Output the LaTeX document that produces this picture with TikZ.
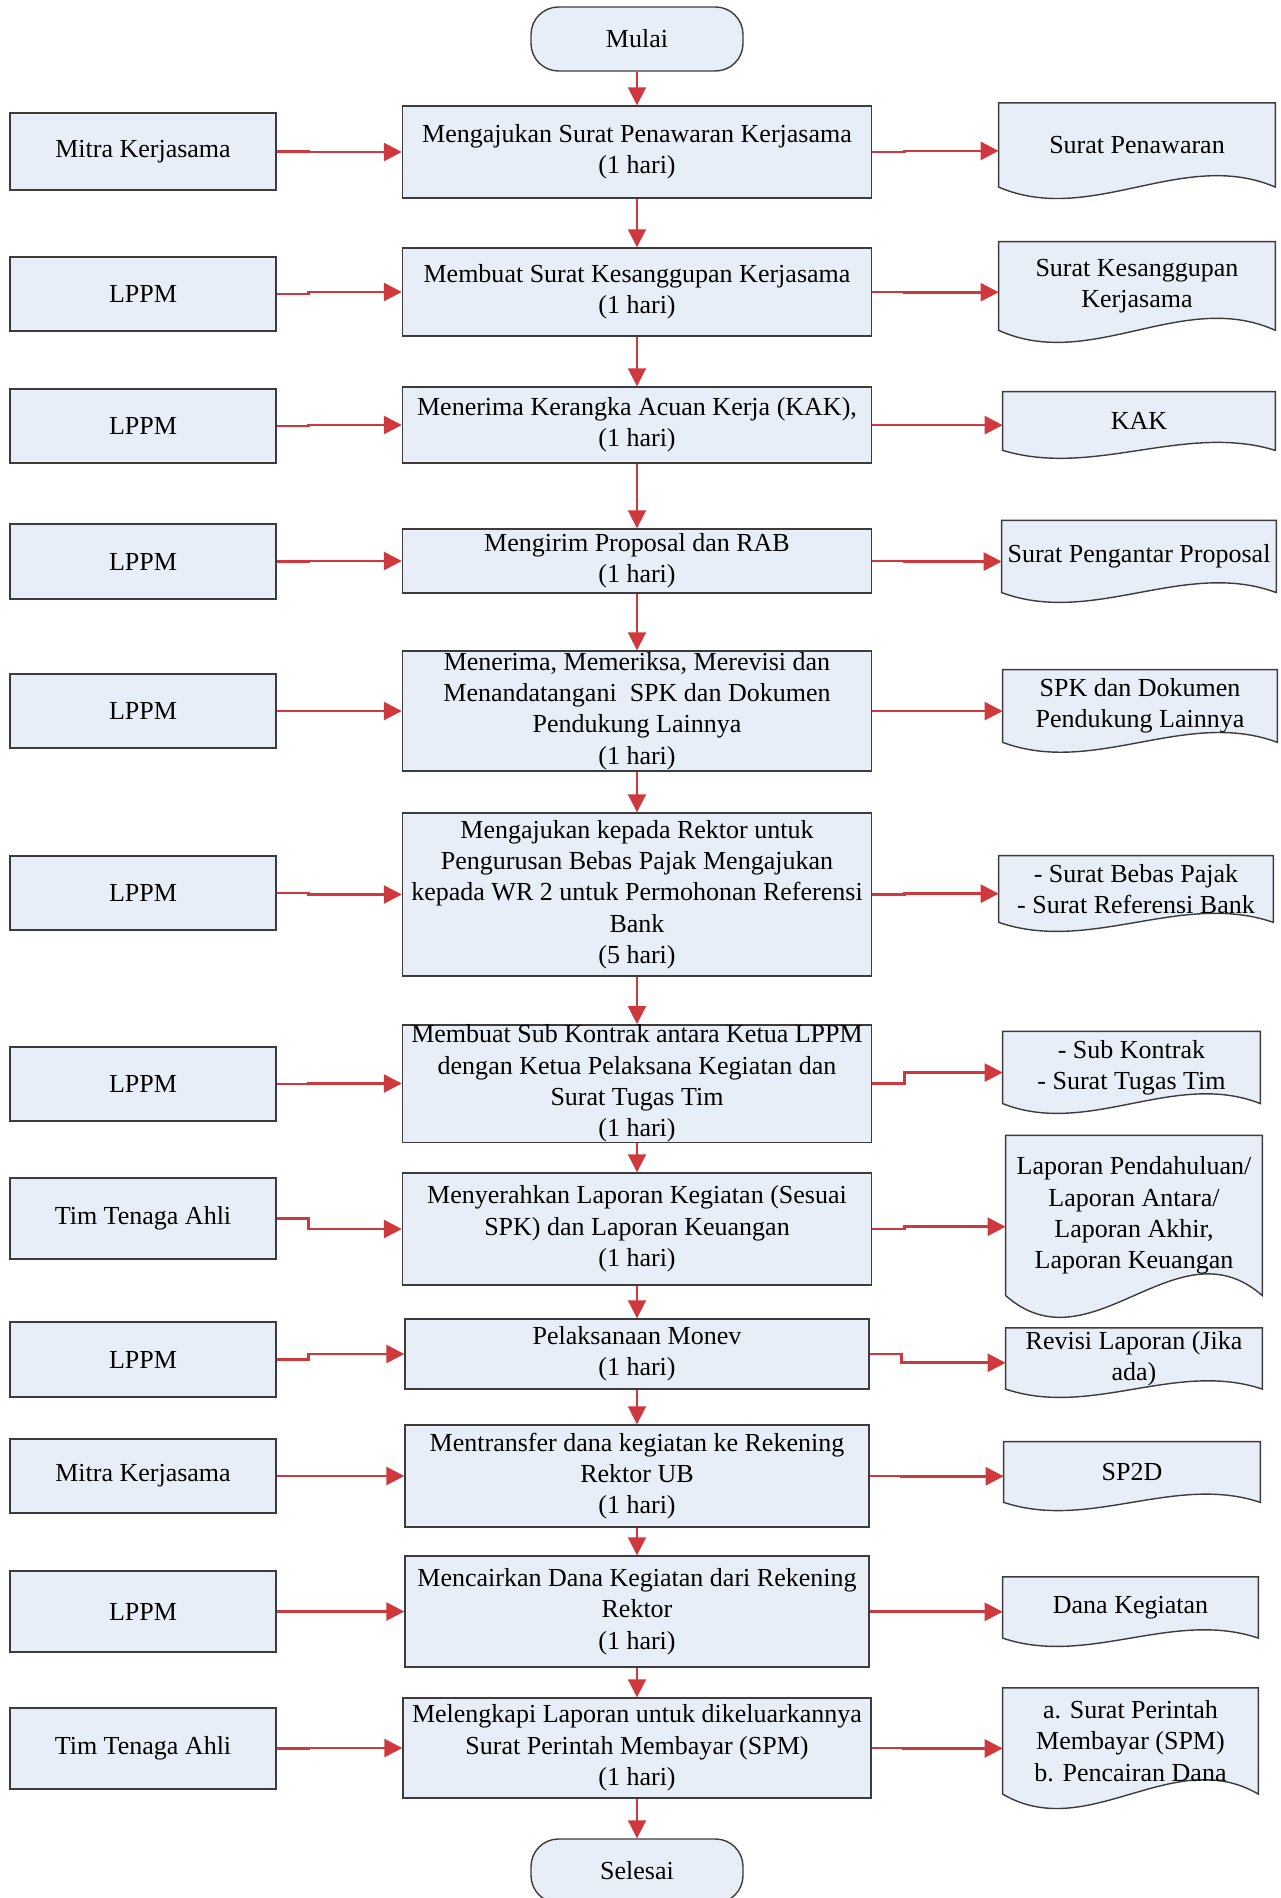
\documentclass[tikz,border=0pt]{standalone}
\usepackage{fontspec}
\setmainfont{Liberation Serif}
\usepackage{tikz}
\definecolor{isiBiru}{RGB}{232,238,247}
\definecolor{garisAbu}{RGB}{60,60,60}
\definecolor{merahPanah}{RGB}{207,57,61}
\usetikzlibrary{calc}
\usetikzlibrary{arrows.meta}
\usetikzlibrary{backgrounds}
\tikzset{
  teks/.style={align=center, inner xsep=1pt, inner ysep=0pt, font=\fontsize{14.8}{17.8}\selectfont},
  kotak/.style={teks, draw=garisAbu, fill=isiBiru, line width=0.8pt},
  pelaku/.style={kotak, minimum width=5.32cm},
  proses/.style={kotak, minimum width=9.38cm},
  terminal/.style={kotak, rounded corners=0.55cm, minimum width=4.24cm, minimum height=1.28cm},
  dokumen/.style={teks},
  dokgaris/.style={draw=garisAbu, fill=isiBiru, line width=0.8pt},
  panah/.style={merahPanah, line width=1.5pt, -{Triangle[length=0.36cm,width=0.36cm]}},
  panahturun/.style={panah, line width=1.1pt}
}

\begin{document}
\begin{tikzpicture}
        \useasboundingbox (0,0) rectangle (25.6,-37.96);

        \node[terminal] (mulai) at (12.74,-0.78) {Mulai};

        % pelaku
        \node[pelaku, minimum height=1.54cm] (l1)  at (2.86, -3.03) {Mitra Kerjasama};
        \node[pelaku, minimum height=1.48cm] (l2)  at (2.86, -5.88) {LPPM};
        \node[pelaku, minimum height=1.48cm] (l3)  at (2.86, -8.52) {LPPM};
        \node[pelaku, minimum height=1.50cm] (l4)  at (2.86,-11.23) {LPPM};
        \node[pelaku, minimum height=1.48cm] (l5)  at (2.86,-14.22) {LPPM};
        \node[pelaku, minimum height=1.48cm] (l6)  at (2.86,-17.86) {LPPM};
        \node[pelaku, minimum height=1.48cm] (l7)  at (2.86,-21.68) {LPPM};
        \node[pelaku, minimum height=1.62cm] (l8)  at (2.86,-24.37) {Tim Tenaga Ahli};
        \node[pelaku, minimum height=1.50cm] (l9)  at (2.86,-27.19) {LPPM};
        \node[pelaku, minimum height=1.48cm] (l10) at (2.86,-29.52) {Mitra Kerjasama};
        \node[pelaku, minimum height=1.62cm] (l11) at (2.86,-32.23) {LPPM};
        \node[pelaku, minimum height=1.62cm] (l12) at (2.86,-34.97) {Tim Tenaga Ahli};

        % proses
        \node[proses, minimum height=1.84cm] (m1)  at (12.74, -3.04) {Mengajukan Surat Penawaran Kerjasama\\(1 hari)};
        \node[proses, minimum height=1.76cm] (m2)  at (12.74, -5.84) {Membuat Surat Kesanggupan Kerjasama\\(1 hari)};
        \node[proses, minimum height=1.52cm] (m3)  at (12.74, -8.50) {Menerima Kerangka Acuan Kerja (KAK),\\(1 hari)};
        \node[proses, minimum height=1.28cm] (m4)  at (12.74,-11.22) {Mengirim Proposal dan RAB\\(1 hari)};
        \node[proses, minimum height=2.40cm] (m5)  at (12.74,-14.22) {Menerima, Memeriksa, Merevisi dan\\Menandatangani\ \ SPK dan Dokumen\\Pendukung Lainnya\\(1 hari)};
        \node[proses, minimum height=3.26cm] (m6)  at (12.74,-17.89) {Mengajukan kepada Rektor untuk\\Pengurusan Bebas Pajak Mengajukan\\kepada WR 2 untuk Permohonan Referensi\\Bank\\(5 hari)};
        \node[proses, minimum height=2.34cm] (m7)  at (12.74,-21.67) {Membuat Sub Kontrak antara Ketua LPPM\\dengan Ketua Pelaksana Kegiatan dan\\Surat Tugas Tim\\(1 hari)};
        \node[proses, minimum height=2.24cm] (m8)  at (12.74,-24.58) {Menyerahkan Laporan Kegiatan (Sesuai\\SPK) dan Laporan Keuangan\\(1 hari)};
        \node[proses, minimum height=1.40cm, minimum width=9.28cm] (m9)  at (12.74,-27.08) {Pelaksanaan Monev\\(1 hari)};
        \node[proses, minimum height=2.04cm, minimum width=9.28cm] (m10) at (12.74,-29.52) {Mentransfer dana kegiatan ke Rekening\\Rektor UB\\(1 hari)};
        \node[proses, minimum height=2.22cm, minimum width=9.28cm] (m11) at (12.74,-32.23) {Mencairkan Dana Kegiatan dari Rekening\\Rektor\\(1 hari)};
        \node[proses, minimum height=2.00cm, minimum width=9.36cm] (m12) at (12.74,-34.96) {Melengkapi Laporan untuk dikeluarkannya\\Surat Perintah Membayar (SPM)\\(1 hari)};

        \node[terminal] (selesai) at (12.74,-37.42) {Selesai};

        % dokumen
        \node[dokumen, minimum width=5.52cm, minimum height=1.67cm] (d1)  at (22.74, -2.90) {Surat Penawaran};
        \node[dokumen, minimum width=5.52cm, minimum height=1.76cm] (d2)  at (22.74, -5.72) {Surat Kesanggupan\\Kerjasama};
        \node[dokumen, minimum width=5.44cm, minimum height=1.16cm] (d3)  at (22.78, -8.42) {KAK};
        \node[dokumen, minimum width=5.48cm, minimum height=1.43cm] (d4)  at (22.78,-11.13) {Surat Pengantar Proposal};
        \node[dokumen, minimum width=5.48cm, minimum height=1.44cm] (d5)  at (22.80,-14.12) {SPK dan Dokumen\\Pendukung Lainnya};
        \node[dokumen, minimum width=5.48cm, minimum height=1.32cm] (d6)  at (22.72,-17.78) {- Surat Bebas Pajak\\- Surat Referensi Bank};
        \node[dokumen, minimum width=5.14cm, minimum height=1.43cm] (d7)  at (22.63,-21.35) {- Sub Kontrak\\- Surat Tugas Tim};
        \node[dokumen, minimum width=5.12cm, minimum height=3.19cm] (d8)  at (22.68,-24.31) {Laporan Pendahuluan/\\Laporan Antara/\\Laporan Akhir,\\Laporan Keuangan};
        \node[dokumen, minimum width=5.12cm, minimum height=1.21cm] (d9)  at (22.68,-27.17) {Revisi Laporan (Jika\\ada)};
        \node[dokumen, minimum width=5.12cm, minimum height=1.20cm] (d10) at (22.64,-29.44) {SP2D};
        \node[dokumen, minimum width=5.10cm, minimum height=1.21cm] (d11) at (22.61,-32.15) {Dana Kegiatan};
        \node[dokumen, minimum width=5.10cm, minimum height=2.11cm] (d12) at (22.61,-34.82) {a. Surat Perintah\\Membayar (SPM)\\b. Pencairan Dana};

        % bentuk dokumen dengan bawah bergelombang
        \begin{scope}[on background layer]
        \foreach \i in {1,...,12}
            \draw[dokgaris] let \p1=(d\i.north west), \p2=(d\i.south east),
                \n1={0.47*(\y1-\y2)}, \n2={(\x2-\x1)/3} in
                (\x1,\y1) -- (\x2,\y1) -- (\x2,\y2)
                .. controls (\x2-\n2,\y2+\n1) and (\x1+\n2,\y2-\n1) .. (\x1,\y2) -- cycle;
        \end{scope}

        % alur
        \draw[panahturun] (mulai.south) -- (m1.north);
        \foreach \i/\j in {1/2,2/3,3/4,4/5,5/6,6/7,7/8,8/9,9/10,10/11,11/12}
            \draw[panahturun] (m\i.south) -- (m\j.north);
        \draw[panahturun] (m12.south) -- (selesai.north);

        \foreach \i in {1,...,12} {
            \draw[panah] (l\i.east) -- ++(0.64,0) |- (m\i.west);
            \draw[panah] (m\i.east) -- ++(0.64,0) |- ($(d\i.west)!0.14!(d\i.south west)$);
        }
    \end{tikzpicture}
\end{document}
